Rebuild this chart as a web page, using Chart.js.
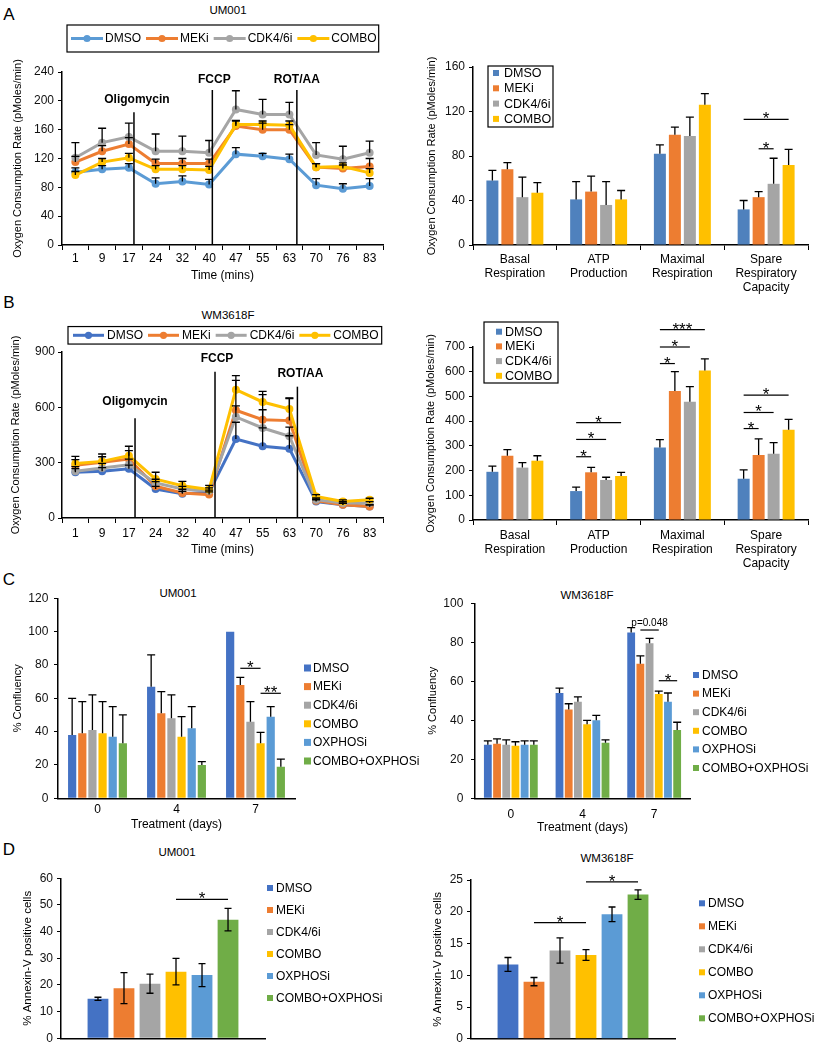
<!DOCTYPE html>
<html>
<head>
<meta charset="utf-8">
<script src="https://cdn.jsdelivr.net/npm/chart.js@4.4.1/dist/chart.umd.min.js"></script>
<style>
  body { margin: 0; background: #fff; width: 821px; height: 1050px; position: relative; overflow: hidden;
         font-family: "Liberation Sans", Arial, sans-serif; color: #000; }
  canvas { position: absolute; }
  .lbl { position: absolute; transform: translate(-50%, -50%); white-space: nowrap; }
  .panel { font-size: 17px; }
  .ttl { font-size: 11.5px; }
</style>
</head>
<body>
<div class="lbl panel" style="left:9px;top:15px">A</div>
<div class="lbl panel" style="left:9px;top:303px">B</div>
<div class="lbl panel" style="left:9px;top:580px">C</div>
<div class="lbl panel" style="left:9px;top:850px">D</div>
<div class="lbl ttl" style="left:228px;top:10px">UM001</div>
<div class="lbl ttl" style="left:228px;top:315px">WM3618F</div>
<div class="lbl ttl" style="left:178px;top:593px">UM001</div>
<div class="lbl ttl" style="left:587px;top:595px">WM3618F</div>
<div class="lbl ttl" style="left:177px;top:852px">UM001</div>
<div class="lbl ttl" style="left:607px;top:858px">WM3618F</div>

<canvas id="aLine" width="410" height="290" style="left:0;top:0"></canvas>
<canvas id="aBar" width="411" height="300" style="left:410px;top:0"></canvas>
<canvas id="bLine" width="410" height="280" style="left:0;top:290px"></canvas>
<canvas id="bBar" width="411" height="290" style="left:410px;top:290px"></canvas>
<canvas id="cLeft" width="430" height="265" style="left:0;top:570px"></canvas>
<canvas id="cRight" width="411" height="265" style="left:410px;top:570px"></canvas>
<canvas id="dLeft" width="410" height="215" style="left:0;top:835px"></canvas>
<canvas id="dRight" width="411" height="215" style="left:410px;top:835px"></canvas>

<script>
// ---- labels ----
const timeLabels = ['1', '9', '17', '24', '32', '40', '47', '55', '63', '70', '76', '83'];
const drugs4 = ['DMSO', 'MEKi', 'CDK4/6i', 'COMBO'];
const drugs6 = ['DMSO', 'MEKi', 'CDK4/6i', 'COMBO', 'OXPHOSi', 'COMBO+OXPHOSi'];
const respLabels = [['Basal', 'Respiration'], ['ATP', 'Production'], ['Maximal', 'Respiration'], ['Spare', 'Respiratory', 'Capacity']];
const dayLabels = ['0', '4', '7'];

// ---- A: UM001 OCR trace ----
const umOcrDmso = [101, 105, 107, 85, 88, 84, 126, 123, 119, 83, 78, 82];
const umOcrMek = [115, 130, 140, 113, 113, 113, 165, 160, 160, 108, 106, 109];
const umOcrCdk = [121, 142, 150, 130, 130, 128, 188, 181, 181, 125, 119, 128];
const umOcrCombo = [97, 115, 121, 105, 105, 104, 167, 167, 166, 108, 109, 100];
const umOcrDmsoErr = [6, 5, 6, 8, 8, 7, 9, 4, 7, 9, 7, 10];
const umOcrMekErr = [8, 8, 9, 6, 7, 6, 7, 9, 7, 5, 5, 11];
const umOcrCdkErr = [21, 20, 19, 24, 21, 17, 26, 21, 17, 17, 18, 16];
const umOcrComboErr = [5, 5, 6, 5, 5, 5, 6, 5, 6, 5, 5, 6];

// ---- A: UM001 respiration parameters ----
const umRespDmso = [58, 41, 82, 32];
const umRespMek = [68, 48, 99, 43];
const umRespCdk = [43, 36, 98, 55];
const umRespCombo = [47, 41, 126, 72];
const umRespDmsoErr = [9, 16, 8, 8];
const umRespMekErr = [6, 14, 7, 5];
const umRespCdkErr = [18, 21, 17, 23];
const umRespComboErr = [9, 8, 10, 14];

// ---- B: WM3618F OCR trace ----
const wmOcrDmso = [248, 253, 267, 157, 132, 139, 428, 389, 376, 89, 72, 63];
const wmOcrMek = [286, 302, 320, 172, 136, 127, 584, 533, 528, 94, 72, 63];
const wmOcrCdk = [253, 271, 289, 190, 157, 148, 548, 488, 443, 99, 81, 81];
const wmOcrCombo = [295, 307, 338, 211, 175, 154, 696, 629, 591, 117, 90, 99];
const wmOcrDmsoErr = [20, 20, 20, 15, 12, 12, 91, 100, 70, 10, 8, 8];
const wmOcrMekErr = [30, 30, 45, 25, 20, 15, 162, 136, 120, 10, 8, 8];
const wmOcrCdkErr = [25, 25, 30, 20, 15, 15, 60, 99, 50, 10, 8, 8];
const wmOcrComboErr = [39, 40, 51, 37, 24, 23, 76, 58, 60, 10, 8, 8];

// ---- B: WM3618F respiration parameters ----
const wmRespDmso = [195, 117, 293, 167];
const wmRespMek = [260, 193, 522, 263];
const wmRespCdk = [212, 162, 478, 268];
const wmRespCombo = [240, 178, 605, 365];
const wmRespDmsoErr = [23, 16, 32, 36];
const wmRespMekErr = [25, 20, 78, 65];
const wmRespCdkErr = [20, 11, 62, 45];
const wmRespComboErr = [20, 15, 47, 42];

// ---- C: confluency (rows = treatment, cols = day 0/4/7) ----
const umConf = [[38, 67, 100], [39, 51, 68], [41, 48, 46], [39, 37, 33], [37, 42, 49], [33, 20, 19]];
const umConfErr = [[22, 19, 0], [19, 13, 4.5], [21, 14, 12], [19, 12, 6.5], [18, 13, 6], [17, 2, 4.5]];
const wmConf = [[27.5, 54, 85], [28, 45.5, 69], [27.5, 49.5, 79.5], [27, 38, 53.5], [27.5, 40, 49.5], [27.5, 28.5, 35]];
const wmConfErr = [[2, 2.5, 2.5], [2.5, 3, 4], [2.5, 2.5, 2.5], [2, 2, 1.5], [2, 2.5, 4.5], [2, 1.5, 4]];

// ---- D: Annexin-V ----
const umAnnexin = [14.8, 18.8, 20.5, 25, 23.7, 44.5];
const umAnnexinErr = [0.6, 5.8, 3.6, 5, 4.3, 4.2];
const wmAnnexin = [11.7, 9, 13.9, 13.2, 19.6, 22.7];
const wmAnnexinErr = [1.1, 0.65, 2, 0.85, 1.15, 0.75];

// colours
const lineColsA = ['#5B9BD5', '#ED7D31', '#A5A5A5', '#FFC000'];
const lineColsB = ['#4472C4', '#ED7D31', '#A5A5A5', '#FFC000'];
const barCols4 = ['#4F81BD', '#ED7D31', '#A5A5A5', '#FFC000'];
const barCols6 = ['#4472C4', '#ED7D31', '#A5A5A5', '#FFC000', '#5B9BD5', '#70AD47'];

const FF = '"Liberation Sans", Arial, sans-serif';
Chart.defaults.font.family = FF;
Chart.defaults.color = '#111';

// error bars, significance bars, injection lines and legends
const extras = {
  id: 'extras',
  afterDatasetsDraw(chart, args, o) {
    const ctx = chart.ctx;
    const xs = chart.scales.x, ys = chart.scales.y;
    ctx.save();
    ctx.strokeStyle = '#000';
    ctx.fillStyle = '#000';

    chart.data.datasets.forEach((ds, i) => {
      if (!ds.errorBars) return;
      chart.getDatasetMeta(i).data.forEach((el, j) => {
        const e = ds.errorBars[j];
        if (!e) return;
        const v = ds.data[j];
        const top = ys.getPixelForValue(v + e);
        const bot = o.both ? ys.getPixelForValue(v - e) : el.y;
        ctx.lineWidth = 1.3;
        ctx.beginPath();
        ctx.moveTo(el.x, bot);
        ctx.lineTo(el.x, top);
        ctx.moveTo(el.x - o.cap, top);
        ctx.lineTo(el.x + o.cap, top);
        if (o.both) {
          ctx.moveTo(el.x - o.cap, bot);
          ctx.lineTo(el.x + o.cap, bot);
        }
        ctx.stroke();
      });
    });

    (o.marks || []).forEach(m => {
      const px = xs.getPixelForValue(m.at);
      ctx.lineWidth = 1.5;
      ctx.beginPath();
      ctx.moveTo(px, chart.chartArea.bottom);
      ctx.lineTo(px, ys.getPixelForValue(m.top));
      ctx.stroke();
      ctx.font = 'bold 12px ' + FF;
      ctx.textAlign = 'center';
      ctx.textBaseline = 'middle';
      ctx.fillText(m.text, px + m.dx, ys.getPixelForValue(m.textAt));
    });

    (o.sig || []).forEach(s => {
      const xa = chart.getDatasetMeta(s.a).data[s.cat].x;
      const xb = chart.getDatasetMeta(s.b).data[s.cat].x;
      const py = ys.getPixelForValue(s.v);
      ctx.lineWidth = 1.2;
      ctx.beginPath();
      ctx.moveTo(xa, py);
      ctx.lineTo(xb, py);
      ctx.stroke();
      ctx.textAlign = 'center';
      ctx.textBaseline = 'alphabetic';
      if (s.text[0] === '*') {
        ctx.font = '17px ' + FF;
        ctx.fillText(s.text, (xa + xb) / 2, py + 5);
      } else {
        ctx.font = '10px ' + FF;
        ctx.fillText(s.text, (xa + xb) / 2, py - 4);
      }
    });

    const lg = o.legend;
    if (lg) {
      ctx.font = lg.size + 'px ' + FF;
      ctx.textAlign = 'left';
      ctx.textBaseline = 'middle';
      const sets = chart.data.datasets;
      if (lg.kind === 'line') {
        let x = lg.x + lg.pad;
        sets.forEach(ds => {
          ctx.strokeStyle = ds.borderColor;
          ctx.lineWidth = 3;
          ctx.beginPath();
          ctx.moveTo(x, lg.y);
          ctx.lineTo(x + lg.len, lg.y);
          ctx.stroke();
          ctx.fillStyle = ds.borderColor;
          ctx.beginPath();
          ctx.arc(x + lg.len / 2, lg.y, 3.6, 0, Math.PI * 2);
          ctx.fill();
          ctx.fillStyle = '#000';
          ctx.fillText(ds.label, x + lg.len + lg.gap, lg.y + 0.5);
          x += lg.len + lg.gap + ctx.measureText(ds.label).width + lg.after;
        });
        ctx.strokeStyle = '#000';
        ctx.lineWidth = 1.2;
        ctx.strokeRect(lg.x, lg.y - lg.h / 2, x - lg.after + lg.padR - lg.x, lg.h);
      } else {
        sets.forEach((ds, i) => {
          const yy = lg.y + i * lg.row;
          ctx.fillStyle = ds.backgroundColor;
          ctx.fillRect(lg.x, yy - lg.sq / 2, lg.sq, lg.sq);
          ctx.fillStyle = '#000';
          ctx.fillText(ds.label, lg.tx, yy + 0.5);
        });
        if (lg.box) {
          ctx.strokeStyle = '#000';
          ctx.lineWidth = 1.2;
          ctx.strokeRect(lg.box[0], lg.box[1], lg.box[2], lg.box[3]);
        }
      }
    }
    ctx.restore();
  }
};

function scalesFor(g) {
  return {
    x: {
      offset: true,
      grid: { drawOnChartArea: false, drawTicks: g.xTicks, tickLength: 5, color: '#000', offset: true },
      border: { color: '#000', width: 1.5 },
      ticks: { padding: g.xPad, font: { size: 12 }, color: '#000', maxRotation: 0, autoSkip: false },
      title: { display: !!g.xTitle, text: g.xTitle || '', color: '#000', font: { size: 12 }, padding: { top: 0, bottom: g.xTitlePad || 0 } },
      afterFit: s => { s.height = g.xH; }
    },
    y: {
      min: 0,
      max: g.yMax,
      grid: { drawOnChartArea: false, drawTicks: true, tickLength: 4, color: '#000' },
      border: { color: '#000', width: 1.5 },
      ticks: { stepSize: g.step, padding: g.yPad, font: { size: 12 }, color: '#111' },
      title: { display: true, text: g.yTitle, color: '#000', font: { size: g.yTitleSize || 11 }, padding: { top: g.yTitlePad, bottom: 0 } },
      afterFit: s => { s.width = g.yW; }
    }
  };
}

function makeChart(id, type, labels, datasets, g, ex) {
  return new Chart(document.getElementById(id), {
    type: type,
    data: { labels: labels, datasets: datasets },
    options: {
      responsive: false,
      animation: false,
      layout: { padding: { left: 0, top: g.top, right: g.right, bottom: 0 } },
      plugins: { legend: { display: false }, tooltip: { enabled: false }, extras: ex },
      scales: scalesFor(g)
    },
    plugins: [extras]
  });
}

function lineSet(label, data, err, color, order) {
  return {
    label: label, data: data, errorBars: err, order: order,
    borderColor: color, backgroundColor: color, borderWidth: 3,
    pointRadius: 4, pointBackgroundColor: color, pointBorderWidth: 0, tension: 0
  };
}

function barSet(label, data, err, color, cp, bp) {
  return {
    label: label, data: data, errorBars: err, backgroundColor: color,
    borderWidth: 0, categoryPercentage: cp, barPercentage: bp
  };
}

const ocrTitle = 'Oxygen Consumption Rate (pMoles/min)';

// A - line
makeChart('aLine', 'line', timeLabels, [
  lineSet(drugs4[0], umOcrDmso, umOcrDmsoErr, lineColsA[0], 3),
  lineSet(drugs4[1], umOcrMek, umOcrMekErr, lineColsA[1], 2),
  lineSet(drugs4[2], umOcrCdk, umOcrCdkErr, lineColsA[2], 1),
  lineSet(drugs4[3], umOcrCombo, umOcrComboErr, lineColsA[3], 0)
], { top: 72, right: 27, yW: 62, yMax: 240, step: 40, yPad: 4, yTitle: ocrTitle, yTitlePad: 11.4,
     xH: 45, xPad: 1, xTicks: true, xTitle: 'Time (mins)', xTitlePad: 6.8 },
{ cap: 4,
  marks: [
    { at: 2.19, top: 184, text: 'Oligomycin', textAt: 201, dx: 3 },
    { at: 5.12, top: 215, text: 'FCCP', textAt: 229, dx: 2 },
    { at: 8.28, top: 215, text: 'ROT/AA', textAt: 229, dx: 0 }
  ],
  legend: { kind: 'line', x: 67, y: 38.5, h: 27, pad: 4, len: 32, gap: 2, after: 5, padR: 2, size: 12 } });

// A - bars
makeChart('aBar', 'bar', respLabels, drugs4.map((n, i) =>
  barSet(n, [umRespDmso, umRespMek, umRespCdk, umRespCombo][i],
         [umRespDmsoErr, umRespMekErr, umRespCdkErr, umRespComboErr][i], barCols4[i], 0.716, 0.8)),
{ top: 67, right: 13, yW: 63, yMax: 160, step: 40, yPad: 4, yTitle: ocrTitle, yTitlePad: 15,
  xH: 55, xPad: 2, xTicks: true },
{ cap: 4,
  sig: [
    { cat: 3, a: 1, b: 2, v: 86.5, text: '*' },
    { cat: 3, a: 0, b: 3, v: 113, text: '*' }
  ],
  legend: { kind: 'sq', x: 83, y: 73, row: 15.3, sq: 6, tx: 94, size: 12.5, box: [78, 66, 65, 61] } });

// B - line
makeChart('bLine', 'line', timeLabels, [
  lineSet(drugs4[0], wmOcrDmso, wmOcrDmsoErr, lineColsB[0], 3),
  lineSet(drugs4[1], wmOcrMek, wmOcrMekErr, lineColsB[1], 2),
  lineSet(drugs4[2], wmOcrCdk, wmOcrCdkErr, lineColsB[2], 1),
  lineSet(drugs4[3], wmOcrCombo, wmOcrComboErr, lineColsB[3], 0)
], { top: 62, right: 27, yW: 62, yMax: 900, step: 300, yPad: 3, yTitle: ocrTitle, yTitlePad: 9,
     xH: 52, xPad: 3, xTicks: true, xTitle: 'Time (mins)', xTitlePad: 12.8 },
{ cap: 4,
  marks: [
    { at: 2.23, top: 541, text: 'Oligomycin', textAt: 631, dx: 0 },
    { at: 5.22, top: 793, text: 'FCCP', textAt: 866, dx: 2 },
    { at: 8.3, top: 712, text: 'ROT/AA', textAt: 785, dx: 3 }
  ],
  legend: { kind: 'line', x: 68, y: 45.3, h: 17.5, pad: 5, len: 31, gap: 3, after: 5, padR: 3, size: 12 } });

// B - bars
makeChart('bBar', 'bar', respLabels, drugs4.map((n, i) =>
  barSet(n, [wmRespDmso, wmRespMek, wmRespCdk, wmRespCombo][i],
         [wmRespDmsoErr, wmRespMekErr, wmRespCdkErr, wmRespComboErr][i], barCols4[i], 0.716, 0.8)),
{ top: 57, right: 13, yW: 63, yMax: 700, step: 100, yPad: 4, yTitle: ocrTitle, yTitlePad: 14,
  xH: 60, xPad: 3, xTicks: true },
{ cap: 4,
  sig: [
    { cat: 1, a: 0, b: 1, v: 256, text: '*' },
    { cat: 1, a: 0, b: 2, v: 326, text: '*' },
    { cat: 1, a: 0, b: 3, v: 394, text: '*' },
    { cat: 2, a: 0, b: 1, v: 633, text: '*' },
    { cat: 2, a: 0, b: 2, v: 700, text: '*' },
    { cat: 2, a: 0, b: 3, v: 770, text: '***' },
    { cat: 3, a: 0, b: 1, v: 370, text: '*' },
    { cat: 3, a: 0, b: 2, v: 435, text: '*' },
    { cat: 3, a: 0, b: 3, v: 505, text: '*' }
  ],
  legend: { kind: 'sq', x: 86, y: 41.7, row: 14.7, sq: 6, tx: 95, size: 12.5, box: [74, 32, 74, 61] } });

// C - UM001 confluency
makeChart('cLeft', 'bar', dayLabels, drugs6.map((n, i) =>
  barSet(n, umConf[i], umConfErr[i], barCols6[i], 0.77, 0.81)),
{ top: 28.3, right: 135, yW: 58, yMax: 120, step: 20, yPad: 5.7, yTitle: '% Confluency', yTitlePad: 11.4,
  xH: 36.7, xPad: 4.5, xTicks: false, xTitle: 'Treatment (days)', xTitlePad: 2.8 },
{ cap: 4,
  sig: [
    { cat: 2, a: 1, b: 3, v: 78, text: '*' },
    { cat: 2, a: 3, b: 5, v: 63, text: '**' }
  ],
  legend: { kind: 'sq', x: 304, y: 98, row: 18.6, sq: 7, tx: 313, size: 12 } });

// C - WM3618F confluency
makeChart('cRight', 'bar', dayLabels, drugs6.map((n, i) =>
  barSet(n, wmConf[i], wmConfErr[i], barCols6[i], 0.77, 0.85)),
{ top: 33.3, right: 131, yW: 65, yMax: 100, step: 20, yPad: 7.7, yTitle: '% Confluency', yTitlePad: 16.4,
  xH: 36.7, xPad: 9.5, xTicks: false, xTitle: 'Treatment (days)', xTitlePad: 0 },
{ cap: 4,
  sig: [
    { cat: 2, a: 1, b: 3, v: 86.3, text: 'p=0.048' },
    { cat: 2, a: 3, b: 5, v: 60.3, text: '*' }
  ],
  legend: { kind: 'sq', x: 283, y: 105, row: 18.6, sq: 6, tx: 292, size: 12 } });

// D - UM001 Annexin-V
makeChart('dLeft', 'bar', [''], drugs6.map((n, i) =>
  barSet(n, [umAnnexin[i]], [umAnnexinErr[i]], barCols6[i], 0.765, 0.8)),
{ top: 43.3, right: 145, yW: 61, yMax: 60, step: 10, yPad: 4, yTitle: '% Annexin-V positive cells',
  yTitleSize: 11.5, yTitlePad: 21, xH: 11.7, xPad: 0, xTicks: false },
{ cap: 3.5, both: true,
  sig: [{ cat: 0, a: 3, b: 5, v: 52.1, text: '*' }],
  legend: { kind: 'sq', x: 267, y: 53, row: 22, sq: 6, tx: 276, size: 12 } });

// D - WM3618F Annexin-V
makeChart('dRight', 'bar', [''], drugs6.map((n, i) =>
  barSet(n, [wmAnnexin[i]], [wmAnnexinErr[i]], barCols6[i], 0.765, 0.8)),
{ top: 45, right: 146, yW: 61, yMax: 25, step: 5, yPad: 4, yTitle: '% Annexin-V positive cells',
  yTitleSize: 11.5, yTitlePad: 21, xH: 10, xPad: 0, xTicks: false },
{ cap: 3.5, both: true,
  sig: [
    { cat: 0, a: 1, b: 3, v: 18.3, text: '*' },
    { cat: 0, a: 3, b: 5, v: 24.7, text: '*' }
  ],
  legend: { kind: 'sq', x: 289, y: 68.3, row: 23, sq: 6, tx: 298, size: 12 } });
</script>
</body>
</html>
